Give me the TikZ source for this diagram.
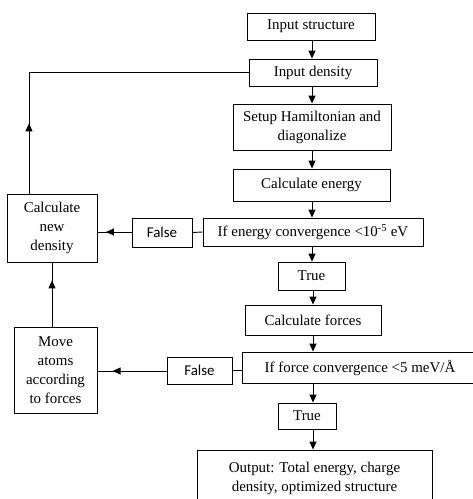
\documentclass[tikz,border=0pt]{standalone}
\usepackage{fontspec}
\setmainfont{Liberation Serif}
\newfontfamily\falsefont{Carlito}
\usetikzlibrary{arrows.meta,positioning,calc,decorations.markings}

\tikzset{
  flowbox/.style={draw,line width=0.9pt,inner sep=0pt,align=center,font=\fontsize{15}{19}\selectfont},
  falsebox/.style={flowbox,font=\falsefont\fontsize{15}{19}\selectfont},
  flowline/.style={line width=0.9pt},
  flowarrow/.style={flowline,-{Triangle[length=8pt,width=7pt]}},
  midarrow/.style={flowline,postaction={decorate},
    decoration={markings,mark=at position #1 with {\arrow{Triangle[length=8pt,width=7pt]}}}}
}

\begin{document}
\begin{tikzpicture}[x=1bp,y=-1bp]
  \useasboundingbox (0,0) rectangle (473,499);
  % main column
  \node[flowbox,minimum width=128bp,minimum height=27bp] (struct) at (311,26.5) {Input structure};
  \node[flowbox,minimum width=128bp,minimum height=27bp] (dens) at (313,72.5) {Input density};
  \node[flowbox,minimum width=158bp,minimum height=46bp] (ham) at (312,127) {Setup Hamiltonian and\\diagonalize};
  \node[flowbox,minimum width=157bp,minimum height=32bp] (energy) at (311.5,185) {Calculate energy};
  \node[flowbox,minimum width=220bp,minimum height=28bp] (econv) at (313,232) {If energy convergence <10\textsuperscript{-5} eV};
  \node[flowbox,minimum width=67bp,minimum height=28bp] (true1) at (311.5,276) {True};
  \node[flowbox,minimum width=136bp,minimum height=30bp] (forces) at (313,320) {Calculate forces};
  \node[flowbox,minimum width=236bp,minimum height=31bp] (fconv) at (360,367.5) {If force convergence <5 meV/Å};
  \node[flowbox,minimum width=58bp,minimum height=26bp] (true2) at (307,416) {True};
  \node[flowbox,minimum width=235bp,minimum height=56bp] (out) at (314.5,478) {Output: Total energy, charge\\density, optimized structure};
  % false branches
  \node[falsebox,minimum width=60bp,minimum height=29bp] (false1) at (162,232.5) {False};
  \node[falsebox,minimum width=65bp,minimum height=27bp] (false2) at (199.5,370.5) {False};
  \node[flowbox,minimum width=90bp,minimum height=68bp] (newdens) at (52,228) {Calculate\\new\\density};
  \node[flowbox,minimum width=83bp,minimum height=86bp] (move) at (55.5,370) {Move\\atoms\\according\\to forces};

  \draw[flowarrow] (struct.south -| 312,0) -- (dens.north -| 312,0);
  \draw[flowarrow] (dens.south -| 312,0) -- (ham.north -| 312,0);
  \draw[flowarrow] (ham.south -| 312,0) -- (energy.north -| 312,0);
  \draw[flowarrow] (energy.south -| 312,0) -- (econv.north -| 312,0);
  \draw[flowarrow] (econv.south -| 312,0) -- (true1.north -| 312,0);
  \draw[flowarrow] (true1.south -| 313,0) -- (forces.north -| 313,0);
  \draw[flowarrow] (forces.south -| 313,0) -- (fconv.north -| 313,0);
  \draw[flowarrow] (fconv.south -| 313,0) -- (true2.north -| 313,0);
  \draw[flowarrow] (true2.south -| 313,0) -- (out.north -| 313,0);

  \draw[flowline] (econv.west) -- (false1.east);
  \draw[flowline] (fconv.west |- false2.east) -- (false2.east);
  \draw[midarrow=0.75] (false1.west |- 0,232) -- (newdens.east |- 0,232);
  \draw[midarrow=0.78] (false2.west |- 0,371) -- (newdens.east |- 0,371);
  \draw[midarrow=0.72] (move.north -| 52,0) -- (newdens.south -| 52,0);
  \coordinate (corner) at (29,72.5);
  \draw[midarrow=0.58] (newdens.north -| 29,0) -- (corner);
  \draw[flowline] (corner) -- (dens.west);
\end{tikzpicture}
\end{document}
